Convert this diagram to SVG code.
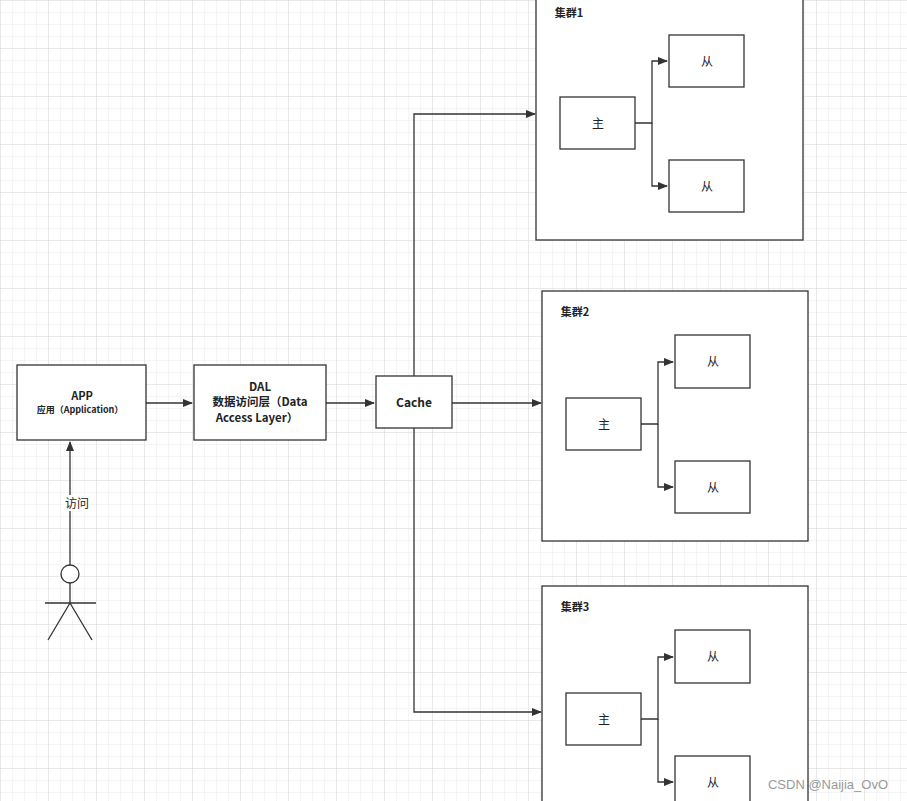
<svg xmlns="http://www.w3.org/2000/svg" width="907" height="801" viewBox="0 0 907 801">
<style>
.b{fill:#fff;stroke:#333;stroke-width:1.3}
.c{fill:none;stroke:#333;stroke-width:1.3}
text{font-family:"Noto Sans CJK SC","Liberation Sans",sans-serif;fill:#222;text-anchor:middle}
.t{font-size:12px}
.d{font-size:11.5px;font-weight:bold}
.s{font-size:9px}
.h{font-size:11px;font-weight:bold}
</style>
<defs>
<pattern id="g1" width="12" height="12" patternUnits="userSpaceOnUse"><path d="M12 0H0V12" fill="none" stroke="#ececec" stroke-width="1"/></pattern>
<pattern id="g2" width="48" height="48" patternUnits="userSpaceOnUse"><rect width="48" height="48" fill="url(#g1)"/><path d="M48 0H0V48" fill="none" stroke="#dcdcdc" stroke-width="1"/></pattern>
<marker id="a" markerWidth="10" markerHeight="8" refX="9" refY="4" orient="auto" markerUnits="userSpaceOnUse"><path d="M0 0L10 4L0 8Z" fill="#333"/></marker>
</defs>
<rect width="907" height="801" fill="#fff"/>
<rect width="907" height="801" fill="url(#g2)"/>
<g id="connectors">
<path class="c" d="M146 403H192" marker-end="url(#a)"/>
<path class="c" d="M326 403H374" marker-end="url(#a)"/>
<path class="c" d="M414 376V114H535" marker-end="url(#a)"/>
<path class="c" d="M452 403H541" marker-end="url(#a)"/>
<path class="c" d="M414 428V712H541" marker-end="url(#a)"/>
<path class="c" d="M70 565V442" marker-end="url(#a)"/>
<rect x="63" y="495" width="28" height="16" fill="#fff"/>
<text class="t" x="77" y="508">访问</text>
</g>
<g id="app"><rect class="b" x="17" y="365" width="129" height="75"/><text class="h" x="82" y="400">APP</text><text class="s" x="80" y="413" font-weight="bold">应用（Application）</text></g>
<g id="dal"><rect class="b" x="194" y="365" width="132" height="75"/><text class="d" x="260" y="391">DAL</text><text class="d" x="260" y="406">数据访问层（Data</text><text class="d" x="257" y="422">Access Layer）</text></g>
<g id="cache"><rect class="b" x="376" y="376" width="76" height="52"/><text class="t" x="414" y="407" font-weight="bold">Cache</text></g>
<g id="actor" class="c"><circle cx="70" cy="574" r="9" fill="#fff"/><path d="M70 583V603M45 603H96M70 603L48 640M70 603L92 640"/></g>
<g id="cluster1">
<rect class="b" x="536" y="-5" width="267" height="245"/><text class="h" x="569" y="17">集群1</text>
<rect class="b" x="560" y="97" width="75" height="52"/><text class="t" x="598" y="128">主</text>
<rect class="b" x="669" y="35" width="75" height="52"/><text class="t" x="707" y="66">从</text>
<rect class="b" x="669" y="160" width="75" height="52"/><text class="t" x="707" y="191">从</text>
<path class="c" d="M635 123H652V61H667" marker-end="url(#a)"/><path class="c" d="M652 123V186H667" marker-end="url(#a)"/>
</g>
<g id="cluster2">
<rect class="b" x="542" y="291" width="266" height="250"/><text class="h" x="575" y="316">集群2</text>
<rect class="b" x="566" y="398" width="75" height="52"/><text class="t" x="604" y="429">主</text>
<rect class="b" x="675" y="335" width="75" height="53"/><text class="t" x="713" y="366">从</text>
<rect class="b" x="675" y="461" width="75" height="52"/><text class="t" x="713" y="492">从</text>
<path class="c" d="M641 424H658V362H673" marker-end="url(#a)"/><path class="c" d="M658 424V487H673" marker-end="url(#a)"/>
</g>
<g id="cluster3">
<rect class="b" x="542" y="586" width="266" height="230"/><text class="h" x="575" y="611">集群3</text>
<rect class="b" x="566" y="693" width="75" height="52"/><text class="t" x="604" y="724">主</text>
<rect class="b" x="675" y="630" width="75" height="53"/><text class="t" x="713" y="661">从</text>
<rect class="b" x="675" y="756" width="75" height="52"/><text class="t" x="713" y="787">从</text>
<path class="c" d="M641 719H658V657H673" marker-end="url(#a)"/><path class="c" d="M658 719V782H673" marker-end="url(#a)"/>
</g>
<text x="828" y="789" style="font-size:13px;fill:#999;font-family:'Liberation Sans',sans-serif">CSDN @Naijia_OvO</text>
</svg>
